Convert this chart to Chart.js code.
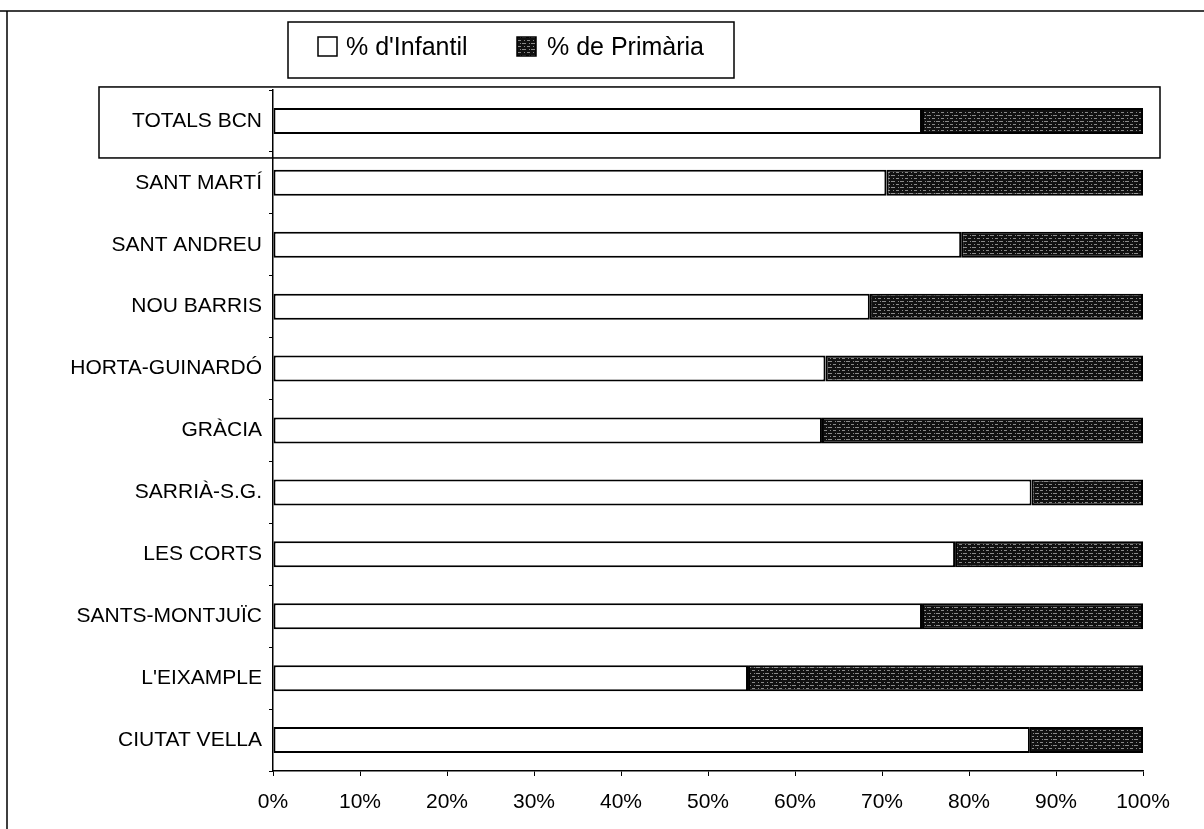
<!DOCTYPE html>
<html>
<head>
<meta charset="utf-8">
<script src="https://cdn.jsdelivr.net/npm/chart.js@4.4.1/dist/chart.umd.min.js"></script>
<style>
  body { margin: 0; background: #fff; }
  canvas { display: block; }
</style>
</head>
<body>
<canvas id="chart" width="1204" height="829"></canvas>
<script>
const categories = [
  "TOTALS BCN", "SANT MARTÍ", "SANT ANDREU", "NOU BARRIS", "HORTA-GUINARDÓ",
  "GRÀCIA", "SARRIÀ-S.G.", "LES CORTS", "SANTS-MONTJUÏC", "L'EIXAMPLE", "CIUTAT VELLA"
];
const infantil = [74.6, 70.5, 79.1, 68.6, 63.5, 63.1, 87.2, 78.4, 74.6, 54.6, 87.0];
const primaria = [25.4, 29.5, 20.9, 31.4, 36.5, 36.9, 12.8, 21.6, 25.4, 45.4, 13.0];
const seriesNames = ["% d'Infantil", "% de Primària"];

const FONT = "'Liberation Sans', Arial, sans-serif";

// dark stippled fill like the scanned original
const makePattern = () => {
  const c = document.createElement("canvas");
  c.width = 9;
  c.height = 6;
  const p = c.getContext("2d");
  p.fillStyle = "#111";
  p.fillRect(0, 0, 9, 6);
  p.fillStyle = "#8a8a8a";
  p.fillRect(0, 1, 4, 1);
  p.fillRect(5, 4, 3, 1);
  p.fillRect(7, 1, 1, 1);
  p.fillRect(2, 4, 1, 1);
  return p.createPattern(c, "repeat");
};
const primariaFill = makePattern();

const decorations = {
  id: "decorations",
  afterDraw(chart) {
    const ctx = chart.ctx;
    const y = chart.scales.y;
    const area = chart.chartArea;
    ctx.save();
    ctx.strokeStyle = "#000";
    ctx.lineWidth = 1.5;

    // outer frame (top and left edges visible)
    ctx.beginPath();
    ctx.moveTo(0, 11);
    ctx.lineTo(1204, 11);
    ctx.moveTo(7, 11);
    ctx.lineTo(7, 829);
    ctx.stroke();

    // box round the totals row
    const yc = y.getPixelForValue(0);
    ctx.strokeRect(99, yc - 34, area.right + 17 - 99, 71);

    // legend
    ctx.strokeRect(288, 22, 446, 56);
    ctx.font = "25px " + FONT;
    ctx.textBaseline = "alphabetic";
    ctx.lineWidth = 1.5;
    ctx.fillStyle = "#fff";
    ctx.fillRect(318, 37, 19, 19);
    ctx.strokeRect(318, 37, 19, 19);
    ctx.fillStyle = primariaFill;
    ctx.fillRect(517, 37, 19, 19);
    ctx.strokeRect(517, 37, 19, 19);
    ctx.fillStyle = "#000";
    ctx.fillText(seriesNames[0], 346, 55);
    ctx.fillText(seriesNames[1], 547, 55);
    ctx.restore();
  },
};

const ctx = document.getElementById("chart").getContext("2d");
new Chart(ctx, {
  type: "bar",
  data: {
    labels: categories,
    datasets: [
      {
        label: seriesNames[0],
        data: infantil,
        backgroundColor: "#fff",
        borderColor: "#000",
        borderWidth: 2,
        borderSkipped: false,
      },
      {
        label: seriesNames[1],
        data: primaria,
        backgroundColor: primariaFill,
        borderColor: "#000",
        borderWidth: 2,
        borderSkipped: false,
      },
    ],
  },
  options: {
    indexAxis: "y",
    responsive: false,
    animation: false,
    layout: { padding: { top: 90, right: 61, left: 0, bottom: 0 } },
    datasets: { bar: { categoryPercentage: 0.42, barPercentage: 1 } },
    plugins: {
      legend: { display: false },
      tooltip: { enabled: false },
    },
    scales: {
      x: {
        stacked: true,
        min: 0,
        max: 100,
        ticks: {
          stepSize: 10,
          color: "#000",
          font: { family: FONT, size: 21 },
          padding: 14,
          maxRotation: 0,
          callback: (v) => v + "%",
        },
        grid: { drawOnChartArea: false, tickLength: 5, color: "#000", lineWidth: 1 },
        border: { color: "#000", width: 1.5 },
        afterFit: (scale) => { scale.height = 58; },
      },
      y: {
        stacked: true,
        ticks: {
          color: "#000",
          font: { family: FONT, size: 21 },
          padding: 7,
        },
        grid: { drawOnChartArea: false, tickLength: 4, color: "#000", lineWidth: 1 },
        border: { color: "#000", width: 1.5 },
        afterFit: (scale) => { scale.width = 273; },
      },
    },
  },
  plugins: [decorations],
});
</script>
</body>
</html>
